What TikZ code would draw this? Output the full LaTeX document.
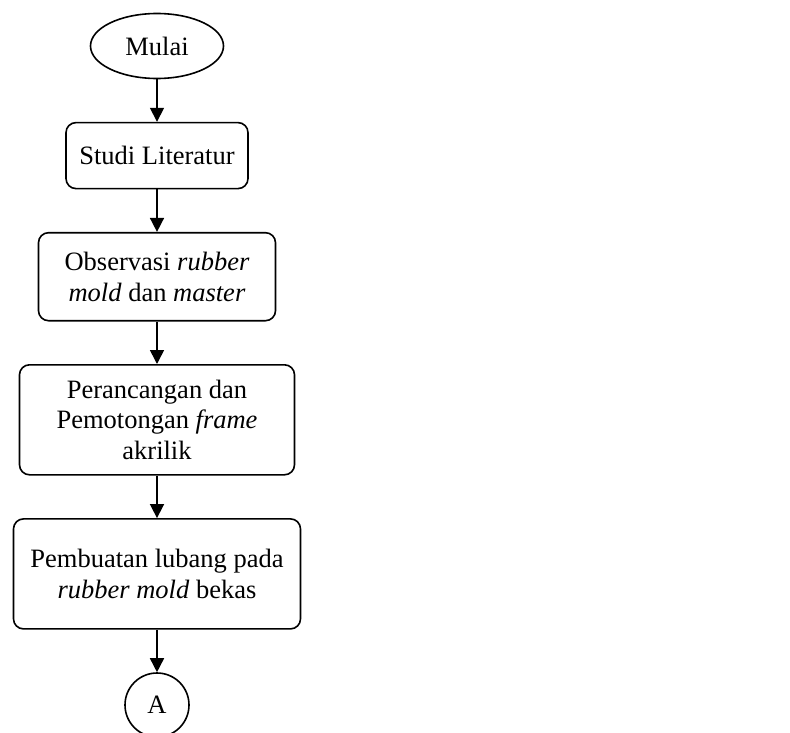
\documentclass[tikz,border=0pt]{standalone}
\usepackage{fontspec}
\setmainfont{Liberation Serif}
\usepackage{tikz}
\usetikzlibrary{positioning, shapes.geometric, arrows.meta}

\begin{document}
\begin{tikzpicture}[x=1pt, y=1pt,
                    blocknode/.style={rectangle, rounded corners=10pt, draw=black, line width=1.6pt, align=center, inner sep=0pt,
                                      font=\fontsize{26.5}{30.5}\selectfont},
                    startnode/.style={ellipse, draw=black, line width=1.6pt, minimum width=133pt, minimum height=65pt, inner sep=0pt,
                                      font=\fontsize{26.5}{30.5}\selectfont},
                    connnode/.style={circle, draw=black, line width=1.6pt, minimum size=64pt, inner sep=0pt,
                                      font=\fontsize{26.5}{30.5}\selectfont},
                    flowarrow/.style={line width=1.6pt, -{Triangle[width=14pt, length=14pt]}},
                    node distance=42.5pt]
                    \useasboundingbox (0,0) rectangle (790,-733);
                    \node[startnode] (0-0) at (157,-46) {Mulai};
                    \node[blocknode, minimum width=182pt, minimum height=66pt] (1-0) [below= of 0-0] {Studi Literatur};
                    \node[blocknode, minimum width=237pt, minimum height=88pt] (2-0) [below= of 1-0] {Observasi \textit{rubber}\\ \textit{mold} dan \textit{master}};
                    \node[blocknode, minimum width=275pt, minimum height=110pt] (3-0) [below= of 2-0] {Perancangan dan\\ Pemotongan \textit{frame}\\ akrilik};
                    \node[blocknode, minimum width=287pt, minimum height=110pt] (4-0) [below= of 3-0] {Pembuatan lubang pada\\ \textit{rubber mold} bekas};
                    \node[connnode] (5-0) [below= of 4-0] {A};

                    \draw[flowarrow] (0-0.south) -- (1-0.north);
                    \draw[flowarrow] (1-0.south) -- (2-0.north);
                    \draw[flowarrow] (2-0.south) -- (3-0.north);
                    \draw[flowarrow] (3-0.south) -- (4-0.north);
                    \draw[flowarrow] (4-0.south) -- (5-0.north);
                    \end{tikzpicture}
\end{document}
